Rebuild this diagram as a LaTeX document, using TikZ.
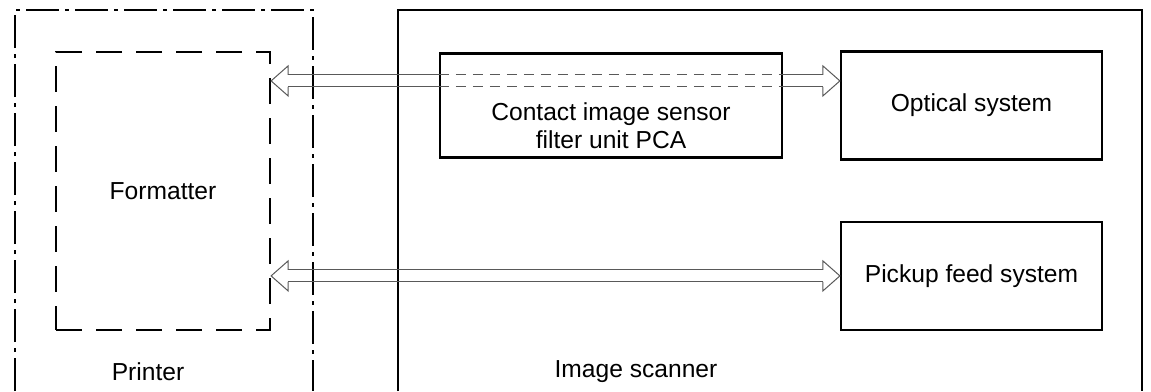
\documentclass[tikz,border=0pt]{standalone}
\usepackage{fontspec}
\setmainfont{Liberation Sans}
\usetikzlibrary{calc}
\begin{document}
\begin{tikzpicture}[x=0.5pt,y=-0.5pt,
  unit/.style={draw,line width=1.1pt,minimum width=130.5pt,minimum height=54pt,align=center,inner sep=0pt},
  hollow/.style={draw=black!65,line width=0.5pt},
  dashdot/.style={line width=1pt,dash pattern=on 16.5pt off 3pt on 2pt off 3pt},
  font=\fontsize{12.3}{14}\selectfont]
\useasboundingbox (0,0) rectangle (1151,391);
\draw[dashdot] (15,391)--(15,10)--(313,10)--(313,391);
\draw[line width=1pt] (398,391)--(398,10)--(1142,10)--(1142,391);
\node[draw,line width=1.1pt,dash pattern=on 13pt off 7pt,minimum width=107pt,minimum height=139pt] (fmt) at (163,191) {Formatter};
\node (prn) at (148,372) {Printer};
\node (scn) at (636,372) {Image scanner};
\node[unit,minimum width=171pt,minimum height=52pt] (cis) at (611,105.5) {};
\node[align=center] (cistext) at ($(cis)+(0,20)$) {Contact image sensor\\filter unit PCA};
\node[unit] (opt) at (971.5,105.5) {Optical system};
\node[unit] (pick) at (971.5,276) {Pickup feed system};
\coordinate (a1) at ($(fmt.north east)+(0,30)$);
\coordinate (b1) at (a1 -| opt.west);
\coordinate (a2) at ($(fmt.north east)+(0,225)$);
\coordinate (b2) at (a2 -| pick.west);
\coordinate (c1) at (a1 -| cis.west);
\coordinate (c2) at (a1 -| cis.east);
\foreach \a/\b in {a1/b1,a2/b2}{
  \draw[hollow] ($(\a)+(17,-6)$)--($(\a)+(17,-15)$)--(\a)--($(\a)+(17,15)$)--($(\a)+(17,6)$);
  \draw[hollow] ($(\b)+(-17,-6)$)--($(\b)+(-17,-15)$)--(\b)--($(\b)+(-17,15)$)--($(\b)+(-17,6)$);}
\foreach \s in {-6,6}{
  \draw[hollow] ($(a1)+(17,\s)$)--($(c1)+(0,\s)$);
  \draw[hollow,dash pattern=on 5pt off 3.5pt] ($(c1)+(0,\s)$)--($(c2)+(0,\s)$);
  \draw[hollow] ($(c2)+(0,\s)$)--($(b1)+(-17,\s)$);
  \draw[hollow] ($(a2)+(17,\s)$)--($(b2)+(-17,\s)$);}
\end{tikzpicture}
\end{document}
